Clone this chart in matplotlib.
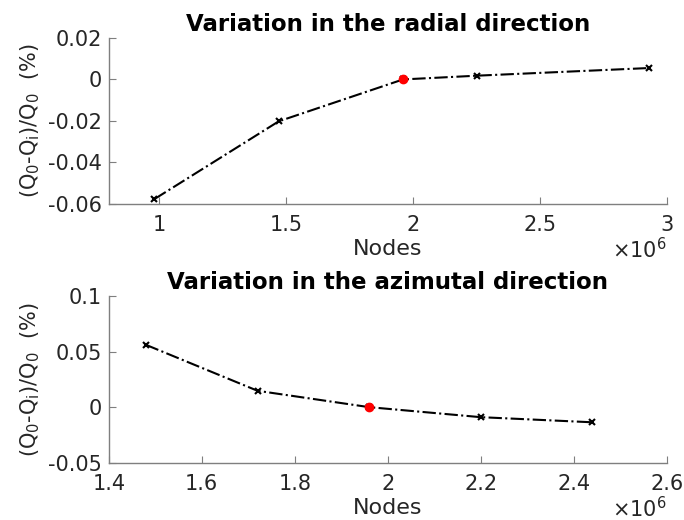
import matplotlib
matplotlib.use("Agg")
import matplotlib.pyplot as plt
from matplotlib.ticker import FuncFormatter

# radial direction
nodes_rad = [0.98e6, 1.47e6, 1.96e6, 2.25e6, 2.93e6]
var_rad = [-0.0577, -0.0202, 0.0, 0.0018, 0.0055]

# azimutal direction
nodes_azi = [1.48e6, 1.72e6, 1.96e6, 2.20e6, 2.44e6]
var_azi = [0.056, 0.0147, 0.0, -0.009, -0.0136]

ref_node = 1.96e6
ref_var = 0.0

titles = ["Variation in the radial direction", "Variation in the azimutal direction"]
xlims = [(0.8e6, 3.0e6), (1.4e6, 2.6e6)]
ylims = [(-0.06, 0.02), (-0.05, 0.1)]
xticks = [[1e6, 1.5e6, 2e6, 2.5e6, 3e6], [1.4e6, 1.6e6, 1.8e6, 2e6, 2.2e6, 2.4e6, 2.6e6]]
yticks = [[-0.06, -0.04, -0.02, 0, 0.02], [-0.05, 0, 0.05, 0.1]]

grey = "#262626"
plt.rcParams["font.family"] = "DejaVu Sans"

fig = plt.figure(figsize=(6.84, 5.20), dpi=100)
ax1 = fig.add_axes([0.159, 0.608, 0.816, 0.319])
ax2 = fig.add_axes([0.159, 0.110, 0.816, 0.321])

data = [(nodes_rad, var_rad), (nodes_azi, var_azi)]
for i, ax in enumerate([ax1, ax2]):
    x, y = data[i]
    ax.plot(x, y, linestyle="-.", color="k", linewidth=1.5, marker="x",
            markersize=4.5, markeredgewidth=1.5)
    ax.plot([ref_node], [ref_var], "o", color="red", markersize=6)
    ax.set_xlim(*xlims[i])
    ax.set_ylim(*ylims[i])
    ax.set_xticks(xticks[i])
    ax.set_yticks(yticks[i])
    ax.xaxis.set_major_formatter(FuncFormatter(lambda v, p: "%g" % (v / 1e6)))
    ax.yaxis.set_major_formatter(FuncFormatter(lambda v, p: "%g" % v))
    ax.spines["top"].set_visible(False)
    ax.spines["right"].set_visible(False)
    for s in ["left", "bottom"]:
        ax.spines[s].set_color("#7f7f7f")
        ax.spines[s].set_linewidth(1.0)
    ax.tick_params(direction="in", length=5, width=0.8, color="#7f7f7f",
                   labelsize=15, labelcolor=grey)
    ax.tick_params(axis="x", pad=8)
    ax.tick_params(axis="y", pad=5)
    ax.set_title(titles[i], fontsize=16.5, fontweight="bold", pad=5)
    ax.set_xlabel("Nodes", fontsize=16, color=grey, labelpad=3)
    ax.set_ylabel(r"(Q$_0$-Q$_\mathrm{i}$)/Q$_0$  (%)", fontsize=15, color=grey, labelpad=4)
    ax.annotate(r"$\times$10$^6$", xy=(1.0, 0.0), xycoords="axes fraction",
                xytext=(0, -54), textcoords="offset pixels", ha="right",
                va="baseline", fontsize=15, color=grey)

fig.savefig("out.png", dpi=100)
